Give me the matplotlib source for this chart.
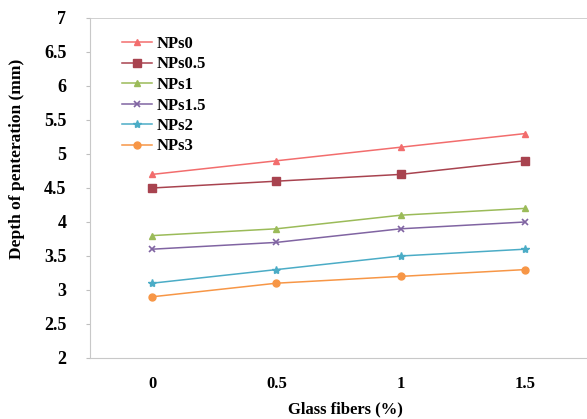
import matplotlib.pyplot as plt

categories = ['0', '0.5', '1', '1.5']
nps0 = [4.7, 4.9, 5.1, 5.3]
nps05 = [4.5, 4.6, 4.7, 4.9]
nps1 = [3.8, 3.9, 4.1, 4.2]
nps15 = [3.6, 3.7, 3.9, 4.0]
nps2 = [3.1, 3.3, 3.5, 3.6]
nps3 = [2.9, 3.1, 3.2, 3.3]

plt.rcParams['font.family'] = ['Liberation Serif', 'DejaVu Serif']
plt.rcParams['font.weight'] = 'bold'

fig = plt.figure(figsize=(5.87, 4.19), dpi=100)
ax = fig.add_axes([90 / 587, 1 - 358 / 419, 497 / 587, 340 / 419])

x = range(len(categories))
ax.plot(x, nps0, color='#f26d6d', marker='^', ms=5, lw=1.1, label='NPs0')
ax.plot(x, nps05, color='#a8434f', marker='s', ms=6, lw=1.1, label='NPs0.5')
ax.plot(x, nps1, color='#9bbb59', marker='^', ms=5, lw=1.1, label='NPs1')
ax.plot(x, nps15, color='#8064a2', marker='x', ms=5, mew=1.2, lw=1.1, label='NPs1.5')
ax.plot(x, nps2, color='#4bacc6', marker='*', ms=6, lw=1.1, label='NPs2')
ax.plot(x, nps3, color='#f79646', marker='o', ms=5, lw=1.1, label='NPs3')

ax.set_xlim(-0.5, 3.5)
ax.set_ylim(2, 7)
ax.set_xticks(list(x))
ax.set_xticklabels(categories)
ax.set_yticks([2, 2.5, 3, 3.5, 4, 4.5, 5, 5.5, 6, 6.5, 7])
ax.set_yticklabels(['2', '2.5', '3', '3.5', '4', '4.5', '5', '5.5', '6', '6.5', '7'])
ax.tick_params(axis='both', colors='#bfbfbf', labelcolor='black', length=3)
ax.tick_params(axis='x', labelsize=12, pad=13, length=0)
ax.tick_params(axis='y', labelsize=13, pad=14)

ax.axhline(7, color='#c8c8c8', lw=1.2)
for side in ['right', 'top']:
    ax.spines[side].set_visible(False)
for side in ['left', 'bottom']:
    ax.spines[side].set_color('#c8c8c8')

fig.text(345 / 587, 1 - 409 / 419, 'Glass fibers (%)', fontsize=12, fontweight='bold',
         ha='center', va='center')
fig.text(17 / 587, 1 - 159 / 419, 'Depth of penteration (mm)', fontsize=12.5,
         fontweight='bold', rotation=90, ha='center', va='center')

ax.legend(loc='upper left', bbox_to_anchor=(122 / 587, 1 - 36 / 419),
          bbox_transform=fig.transFigure, frameon=False, borderpad=0, borderaxespad=0,
          fontsize=12, handlelength=1.8, labelspacing=0.27, handletextpad=0.3)

fig.savefig('out.png', dpi=100)
